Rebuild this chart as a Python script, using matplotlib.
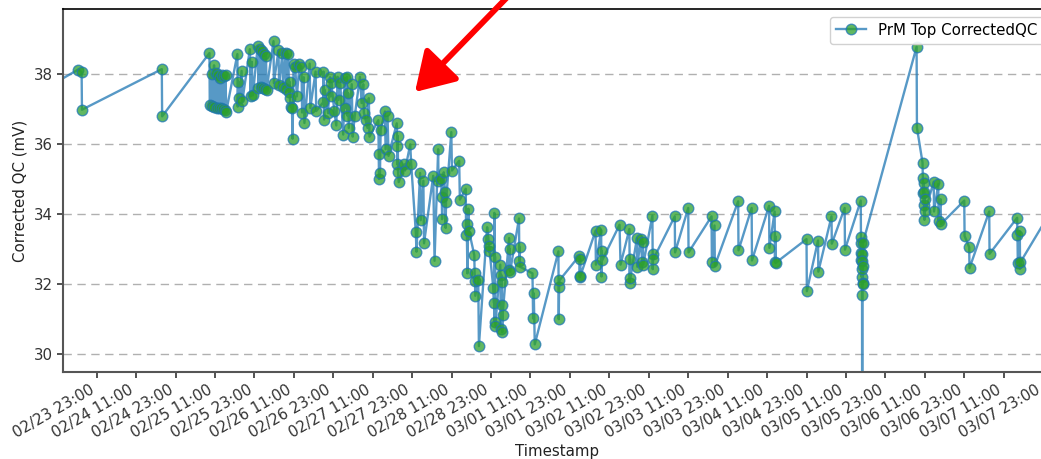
import numpy as np
import matplotlib
matplotlib.use("Agg")
import matplotlib.pyplot as plt
import matplotlib.dates as mdates
from matplotlib.ticker import MultipleLocator

# ---- data -------------------------------------------------------------
start_time = np.datetime64("2019-02-23T00:00")
series_label = "PrM Top CorrectedQC"
x_label = "Timestamp"
y_label = "Corrected QC (mV)"

# hours elapsed since start_time
hours = [
    5.7, 17.4, 18.4, 18.5, 42.8, 42.9,
    57.3, 57.4, 58.0, 58.2, 58.7, 58.8, 59.3, 59.5, 59.9, 60.1, 60.5, 60.7, 61.1, 61.3, 61.7, 61.9, 62.2, 62.4,
    65.8, 65.9, 66.1, 66.4, 67.1, 67.3,
    69.6, 69.8, 70.2, 70.5, 72.0, 72.2, 72.6, 72.9, 73.3, 73.5, 73.8, 74.1, 74.5, 74.7,
    76.8, 76.9, 78.3, 78.5, 79.5, 79.7, 80.5, 80.7, 81.3, 81.5, 81.7, 81.8, 82.0, 82.4, 82.6, 82.9, 83.4, 83.9,
    84.7, 85.3, 85.5, 86.0, 86.2, 87.8, 88.0,
    89.6, 89.8, 91.9, 92.0, 92.2, 92.4, 93.4, 94.0, 94.2, 94.4, 95.3, 95.9, 96.3, 96.6, 97.1, 98.0, 98.5, 98.7,
    99.1, 99.3, 99.5, 99.7, 100.6, 100.9, 101.5,
    103.1, 103.6, 104.1, 104.3, 104.8, 105.4, 105.8, 106.0, 108.7, 108.8, 108.9, 109.2, 109.4, 110.7, 110.9,
    111.5, 111.8, 114.3, 114.4, 114.5, 114.6, 114.7, 114.9, 116.6, 116.8, 118.4, 118.7,
    120.1, 120.3, 121.4, 121.6, 122.4, 122.6, 125.4, 125.8, 126.9, 127.0, 127.8, 128.0, 128.1, 128.6, 129.0,
    129.2, 129.3, 130.9, 131.1, 133.3, 133.5, 135.3, 135.4, 135.6, 135.8, 136.1, 136.3, 137.9, 138.0, 138.1,
    138.2, 139.1, 139.3, 141.8, 142.2, 142.3, 142.4, 143.7, 143.9, 144.0, 144.1, 144.2, 144.3, 145.8, 146.0,
    146.1, 146.2, 146.3, 146.4, 146.5, 148.5, 148.6, 148.7, 148.8, 151.5, 151.6, 151.7, 151.8, 155.6, 155.8,
    156.0, 156.3,
    163.5, 163.6, 163.7, 163.8, 169.9, 170.0, 170.1, 170.2, 174.8, 174.9, 176.5, 176.6, 176.7, 176.8, 182.1,
    182.4, 185.1, 185.2, 185.3, 185.4, 187.4, 187.5, 188.5, 189.0, 189.2, 189.3, 192.1, 192.2, 192.3, 192.4,
    198.9, 199.0, 203.0, 203.1, 210.1, 210.2, 211.0, 211.1, 218.2, 218.3, 222.3, 222.4, 227.6, 227.7, 229.3,
    229.4, 229.5, 229.6,
    239.0, 239.1, 242.5, 242.6, 246.6, 246.7, 250.6, 250.7, 255.5, 255.55, 255.6, 255.65, 255.7, 255.75, 255.8,
    255.85, 255.9, 255.95, 256.0, 256.05, 256.1, 256.15, 256.2,
    272.5, 272.6, 274.3, 274.4, 274.5, 274.6, 274.7, 274.8, 274.9, 275.0, 275.1, 277.7, 277.8, 279.1, 279.2,
    279.8, 279.9, 287.0, 287.1, 288.5, 288.6, 294.6, 294.7, 303.1, 303.2, 303.3, 303.9, 304.0, 304.1, 318.0,
]

corrected_qc = [
    37.50, 38.13, 38.05, 36.98, 38.14, 36.79,
    38.60, 37.11, 38.00, 37.08, 38.25, 37.05, 38.02, 37.02, 37.97, 37.04, 37.90, 37.02, 37.96, 37.00, 37.94, 36.96, 37.96, 36.92,
    38.57, 37.07, 37.78, 37.31, 38.09, 37.22,
    38.71, 37.36, 38.35, 37.39, 38.80, 37.61, 38.72, 37.63, 38.65, 37.60, 38.58, 37.57, 38.51, 37.55,
    38.94, 37.74, 38.68, 37.68, 38.60, 37.63, 38.59, 37.57, 38.57, 37.50, 37.78, 37.31, 37.07, 37.03, 36.15, 38.30, 38.21, 37.36,
    38.28, 38.21, 36.90, 37.91, 36.60, 38.30, 37.03,
    38.07, 36.94, 37.19, 38.07, 36.70, 37.55, 36.88, 37.91, 37.36, 37.74, 36.94, 36.53, 37.92, 37.26, 37.74, 36.27, 37.88, 37.03,
    37.92, 36.81, 37.45, 36.46, 37.71, 36.21, 36.79,
    37.92, 37.17, 37.71, 36.89, 36.70, 36.46, 37.31, 36.21, 36.68, 35.71, 35.00, 35.17, 36.41, 36.93, 35.85,
    36.79, 35.66, 36.59, 35.94, 35.42, 36.23, 35.19, 34.91, 35.42, 35.24, 35.99, 35.42,
    33.47, 32.92, 35.17, 33.82, 34.95, 33.16, 35.09, 32.66, 35.85, 34.95, 35.00, 34.48, 33.85, 35.19, 34.62,
    33.60, 34.34, 36.34, 35.24, 35.52, 34.41, 34.72, 33.41, 33.70, 32.30, 34.15, 33.51, 32.82, 32.30, 32.08,
    31.66, 32.12, 30.22, 33.62, 33.28, 32.93, 33.07, 31.87, 31.45, 34.03, 30.92, 32.78, 30.80, 32.55, 30.72,
    32.26, 31.39, 32.04, 30.62, 31.11, 33.31, 32.40, 33.00, 32.35, 33.87, 32.66, 33.05, 32.49, 32.30, 31.01,
    31.73, 30.27,
    32.93, 30.99, 31.92, 32.10, 32.81, 32.19, 32.71, 32.23, 33.52, 32.55, 33.54, 32.21, 32.94, 32.67, 33.69,
    32.55, 33.57, 32.02, 32.72, 32.17, 33.31, 32.49, 33.28, 32.62, 33.21, 32.55, 33.95, 32.42, 32.84, 32.71,
    33.93, 32.90, 34.17, 32.90, 33.93, 32.62, 33.67, 32.52, 34.36, 32.96, 34.17, 32.67, 34.23, 33.03, 34.07,
    32.62, 33.37, 32.60,
    33.28, 31.79, 33.24, 32.35, 33.93, 33.15, 34.17, 32.98, 34.38, 33.34, 32.88, 33.18, 32.67, 32.84, 32.20,
    32.65, 31.69, 20.00, 32.43, 32.02, 32.52, 32.01, 33.18,
    38.78, 36.47, 35.47, 35.03, 34.59, 34.89, 34.26, 34.64, 33.83, 34.42, 34.07, 34.92, 34.07, 34.86, 33.81,
    34.42, 33.71, 34.38, 33.37, 33.05, 32.45, 34.07, 32.86, 33.89, 33.40, 32.60, 33.50, 32.43, 32.62, 34.80,
]

view_hours = (12.74, 313.4)
view_values = (29.48, 39.86)
y_ticks_step = 2

# ---- figure -----------------------------------------------------------
FS = 10.8
times = start_time + (np.array(hours) * 60).astype("timedelta64[m]")

fig = plt.figure(figsize=(10.41, 4.59), dpi=100)
ax = fig.add_axes([63 / 1041, 1 - 372 / 459, (1051 - 63) / 1041, (372 - 9) / 459])

ax.plot(times, corrected_qc, color="#1f77b4", alpha=0.75, lw=1.7,
        marker="o", markersize=7.6, markerfacecolor="#2ca02c",
        markeredgecolor="#1f77b4", markeredgewidth=1.0, label=series_label)

t0 = start_time + np.timedelta64(int(view_hours[0] * 60), "m")
t1 = start_time + np.timedelta64(int(view_hours[1] * 60), "m")
ax.set_xlim(t0, t1)
ax.set_ylim(*view_values)

ax.xaxis.set_major_locator(mdates.HourLocator(byhour=[11, 23]))
ax.xaxis.set_major_formatter(mdates.DateFormatter("%m/%d %H:%M"))
ax.yaxis.set_major_locator(MultipleLocator(y_ticks_step))
plt.setp(ax.get_xticklabels(), rotation=30, ha="right")

ax.grid(axis="y", linestyle=(0, (6, 4)), color="#b0b0b0", lw=1.0)
ax.tick_params(axis="both", labelsize=FS, colors="#333333", length=4, width=1.2)
for s in ("left", "bottom"):
    ax.spines[s].set_color("#555555")
    ax.spines[s].set_linewidth(1.5)
ax.spines["top"].set_color("black")
ax.spines["top"].set_linewidth(1.2)

ax.set_xlabel(x_label, fontsize=FS, color="#222222", labelpad=2)
ax.set_ylabel(y_label, fontsize=FS, color="#222222")
ax.legend(loc="upper right", fontsize=FS, framealpha=0.9)

# red call-out arrow
ax.annotate("", xy=(415 / 1041, 1 - 92 / 459), xytext=(522 / 1041, 1 + 18 / 459),
            xycoords="figure fraction", textcoords="figure fraction",
            annotation_clip=False,
            arrowprops=dict(arrowstyle="-|>,head_length=1.3,head_width=0.8",
                            mutation_scale=18, lw=4.2, color="#ff0000",
                            shrinkA=0, shrinkB=0))

fig.savefig("out.png", dpi=100)
